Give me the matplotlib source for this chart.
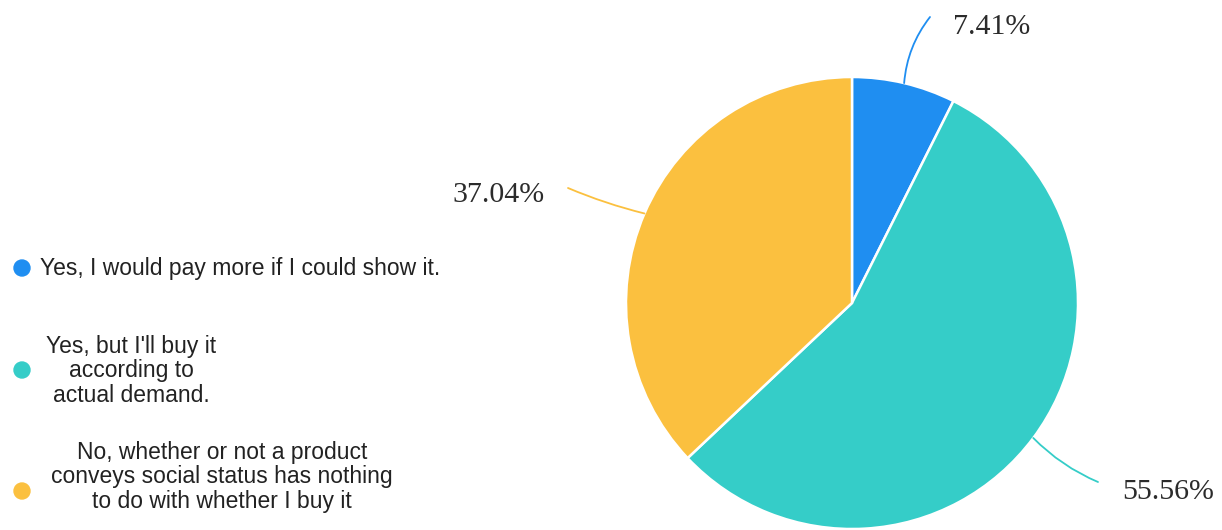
import numpy as np
import matplotlib.pyplot as plt
from matplotlib.patches import Circle

# survey answers and shares (%)
labels = ["Yes, I would pay more if I could show it.",
          "Yes, but I'll buy it\naccording to\nactual demand.",
          "No, whether or not a product\nconveys social status has nothing\nto do with whether I buy it"]
shares = [7.41, 55.56, 37.04]
pct_text = ["7.41%", "55.56%", "37.04%"]
colors = ["#1f8ef1", "#35cdc8", "#fbc03f"]

W, H = 1222, 530
fig = plt.figure(figsize=(W / 100, H / 100), dpi=100)
ax = fig.add_axes([0, 0, 1, 1])

cx, cy, r = 852, 227, 226
wedges, _ = ax.pie(shares, colors=colors, startangle=90, counterclock=False,
                   center=(cx, cy), radius=r, frame=True,
                   wedgeprops=dict(edgecolor='white', linewidth=1.8))
ax.set_xlim(0, W)
ax.set_ylim(0, H)
ax.set_aspect('equal')
ax.axis('off')

# label centres, leader line ends and curvature (pixel coords, y up)
label_pos = [(992, H - 27), (1168, H - 492), (498, H - 195)]
line_end = [(930, H - 17), (1098, H - 482), (568, H - 188)]
rads = [0.15, -0.1, 0.04]
for w, txt, pos, end, rad, col in zip(wedges, pct_text, label_pos, line_end, rads, colors):
    ang = np.deg2rad((w.theta1 + w.theta2) / 2)
    px, py = cx + r * np.cos(ang), cy + r * np.sin(ang)
    ax.annotate("", xy=(px, py), xytext=end,
                arrowprops=dict(arrowstyle='-', color=col, lw=1.3,
                                shrinkA=0, shrinkB=0,
                                connectionstyle=f"arc3,rad={rad}"))
    ax.text(pos[0], pos[1], txt, fontsize=21.5, family='Liberation Serif',
            color='#2b2b2b', ha='center', va='center')

# legend on the left
dot_y = [H - 268, H - 370, H - 491]
text_y = [H - 268, H - 371, H - 477]
text_x = [40, 131, 222]
text_ha = ['left', 'center', 'center']
for lab, col, dy, ty, x, ha in zip(labels, colors, dot_y, text_y, text_x, text_ha):
    ax.add_patch(Circle((22, dy), 8, color=col))
    ax.text(x, ty, lab, fontsize=16.5, family='Liberation Sans', color='#222222',
            ha=ha, va='center', multialignment='center', linespacing=1.08)

fig.savefig('out.png', dpi=100)
